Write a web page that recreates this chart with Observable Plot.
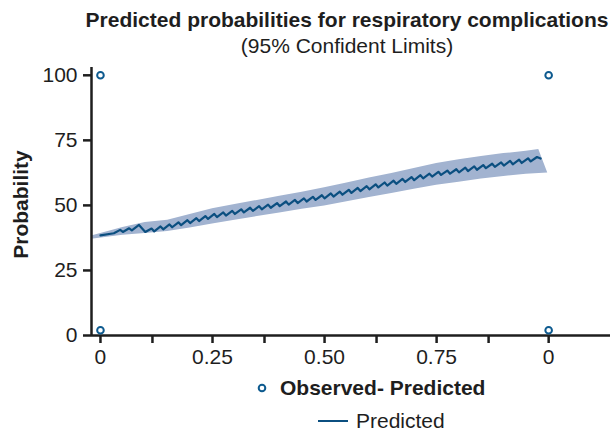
<!DOCTYPE html>
<html><head><meta charset="utf-8">
<script src="https://cdn.jsdelivr.net/npm/d3@7"></script>
<script src="https://cdn.jsdelivr.net/npm/@observablehq/plot@0.6"></script>
<style>
body{margin:0;background:#fff;font-family:"Liberation Sans",Arial,Helvetica,sans-serif;color:#1e1e1e}
#wrap{position:relative;width:610px;height:431px;overflow:hidden}
#head{height:59px;position:relative}
.t{position:absolute;left:85px;width:524px;text-align:center;font-size:21px;line-height:26px;white-space:nowrap}
#title{top:7px;font-weight:bold}
#sub{top:33px}
#chart{height:313px}
#legend{position:relative;height:59px}
.lg{position:absolute;font-size:21px;line-height:26px;white-space:nowrap}
</style></head>
<body>
<div id="wrap">
  <div id="head">
    <div class="t" id="title">Predicted probabilities for respiratory complications</div>
    <div class="t" id="sub">(95% Confident Limits)</div>
  </div>
  <div id="chart"></div>
  <div id="legend">
    <svg width="610" height="59" style="position:absolute;left:0;top:0">
      <circle cx="262" cy="16" r="3.3" fill="#fff" stroke="#0d5a8f" stroke-width="2"></circle>
      <line x1="318" x2="348" y1="49" y2="49" stroke="#0b4f80" stroke-width="2"></line>
    </svg>
    <div class="lg" style="left:280px;top:3px;font-weight:bold">Observed- Predicted</div>
    <div class="lg" style="left:356px;top:36px">Predicted</div>
  </div>
</div>
<script>
// ---- data ----
const xTicks = [0, 0.25, 0.5, 0.75, 1];
const xTickLabels = ["0", "0.25", "0.50", "0.75", "0"];
const xMinorTicks = [0.116, 0.366, 0.616, 0.866];
const yTicks = [0, 25, 50, 75, 100];
const xDomain = [-0.02, 1.138];
const yDomain = [0, 103];

const obsX = [0, 0, 1, 1];
const obsY = [100, 2, 100, 2];

const predX = [0, 0.03, 0.044, 0.05, 0.064, 0.07, 0.086, 0.1,
  0.114, 0.12, 0.134, 0.14, 0.154, 0.16, 0.174, 0.18, 0.194, 0.2, 0.214, 0.22, 0.234, 0.24,
  0.254, 0.26, 0.274, 0.28, 0.294, 0.30, 0.314, 0.32, 0.334, 0.34, 0.354, 0.36, 0.374, 0.38,
  0.394, 0.40, 0.414, 0.42, 0.434, 0.44, 0.454, 0.46, 0.474, 0.48, 0.494, 0.50,
  0.514, 0.52, 0.534, 0.54, 0.554, 0.56, 0.574, 0.58, 0.594, 0.60, 0.614, 0.62,
  0.634, 0.64, 0.654, 0.66, 0.674, 0.68, 0.694, 0.70, 0.714, 0.72, 0.734, 0.74,
  0.754, 0.76, 0.774, 0.78, 0.794, 0.80, 0.814, 0.82, 0.834, 0.84, 0.854, 0.86,
  0.874, 0.88, 0.894, 0.90, 0.914, 0.92, 0.934, 0.94, 0.954, 0.96, 0.974, 0.982];
const predY = [38.5, 39.3, 40.6, 39.8, 41.2, 40.4, 42.5, 39.8,
  41.1, 40.0, 41.9, 40.8, 42.7, 41.6, 43.5, 42.4, 44.3, 43.2, 45.1, 44.0, 45.9, 44.8,
  46.7, 45.5, 47.3, 46.1, 47.9, 46.7, 48.5, 47.3, 49.1, 47.9, 49.7, 48.5, 50.3, 49.1,
  50.9, 49.7, 51.5, 50.3, 52.1, 50.9, 52.7, 51.5, 53.3, 52.1, 53.9, 52.7,
  54.6, 53.4, 55.3, 54.1, 56.0, 54.8, 56.7, 55.5, 57.4, 56.2, 58.1, 56.9,
  58.8, 57.6, 59.5, 58.3, 60.2, 59.0, 60.9, 59.7, 61.6, 60.4, 62.2, 61.1,
  62.9, 61.7, 63.4, 62.2, 63.9, 62.7, 64.5, 63.2, 65.0, 63.7, 65.5, 64.3,
  66.0, 64.8, 66.5, 65.3, 67.1, 65.8, 67.6, 66.3, 68.1, 66.9, 68.6, 68.0];

// 95% confidence band: lower edge (x, value) and upper edge (x, value)
const bandLoX = [-0.02, 0.05, 0.1, 0.15, 0.2, 0.25, 0.3, 0.35, 0.4, 0.45, 0.5, 0.55, 0.6, 0.65, 0.7, 0.75, 0.8, 0.85, 0.9, 0.95, 0.998];
const bandLo  = [37.0, 38.5, 39.2, 40.0, 41.3, 42.9, 44.3, 45.7, 47.1, 48.5, 49.8, 51.4, 53.0, 54.6, 56.2, 57.7, 58.9, 60.1, 61.1, 62.0, 62.5];
const bandHiX = [-0.02, 0.05, 0.1, 0.15, 0.2, 0.25, 0.3, 0.35, 0.4, 0.45, 0.5, 0.55, 0.6, 0.65, 0.7, 0.75, 0.8, 0.85, 0.9, 0.95, 0.978];
const bandHi  = [38.2, 41.5, 43.4, 44.3, 46.5, 48.7, 50.3, 51.9, 53.5, 55.1, 56.8, 58.6, 60.5, 62.3, 64.2, 66.1, 67.5, 68.8, 69.9, 70.8, 71.5];

// ---- tables ----
const pred = predX.map((x, i) => ({x, y: predY[i]}));
const obs = obsX.map((x, i) => ({x, y: obsY[i]}));
const band = bandLoX.map((x, i) => ({xl: x, lo: bandLo[i], xh: bandHiX[i], hi: bandHi[i]}));

const ink = "#1e1e1e";
const plot = Plot.plot({
  width: 610, height: 313,
  marginLeft: 91, marginRight: 0, marginTop: 8, marginBottom: 37,
  x: {domain: xDomain},
  y: {domain: yDomain},
  style: {fontFamily: '"Liberation Sans", Arial, Helvetica, sans-serif', fontSize: "21px", color: ink, background: "#fff", overflow: "visible"},
  marks: [
    Plot.area(band, {x1: "xl", y1: "lo", x2: "xh", y2: "hi", fill: "#a2b3d0", curve: "linear"}),
    Plot.line(pred, {x: "x", y: "y", stroke: "#0b4f80", strokeWidth: 2.2}),
    Plot.ruleY([yDomain[0]], {stroke: ink, strokeWidth: 2.5}),
    Plot.ruleX([xDomain[0]], {stroke: ink, strokeWidth: 2.5}),
    Plot.dot(obs, {x: "x", y: "y", r: 3.3, stroke: "#0d5a8f", strokeWidth: 2, fill: "#fff"}),
    Plot.axisX({ticks: xTicks, tickFormat: d => xTickLabels[xTicks.indexOf(d)], tickSize: 8, tickPadding: 6, strokeWidth: 2.5, stroke: ink, fill: ink, label: null}),
    Plot.axisX({ticks: xMinorTicks, tickFormat: () => "", tickSize: 8, strokeWidth: 2.5, stroke: ink, label: null}),
    Plot.axisY({ticks: yTicks, tickSize: 8, tickPadding: 6, strokeWidth: 2.5, stroke: ink, fill: ink, label: null}),
    Plot.text(["Probability"], {frameAnchor: "left", dx: -70, dy: 3, rotate: -90, textAnchor: "middle", fontWeight: "bold", fontSize: 21, fill: ink})
  ]
});
document.getElementById("chart").appendChild(plot);
</script>
</body></html>
